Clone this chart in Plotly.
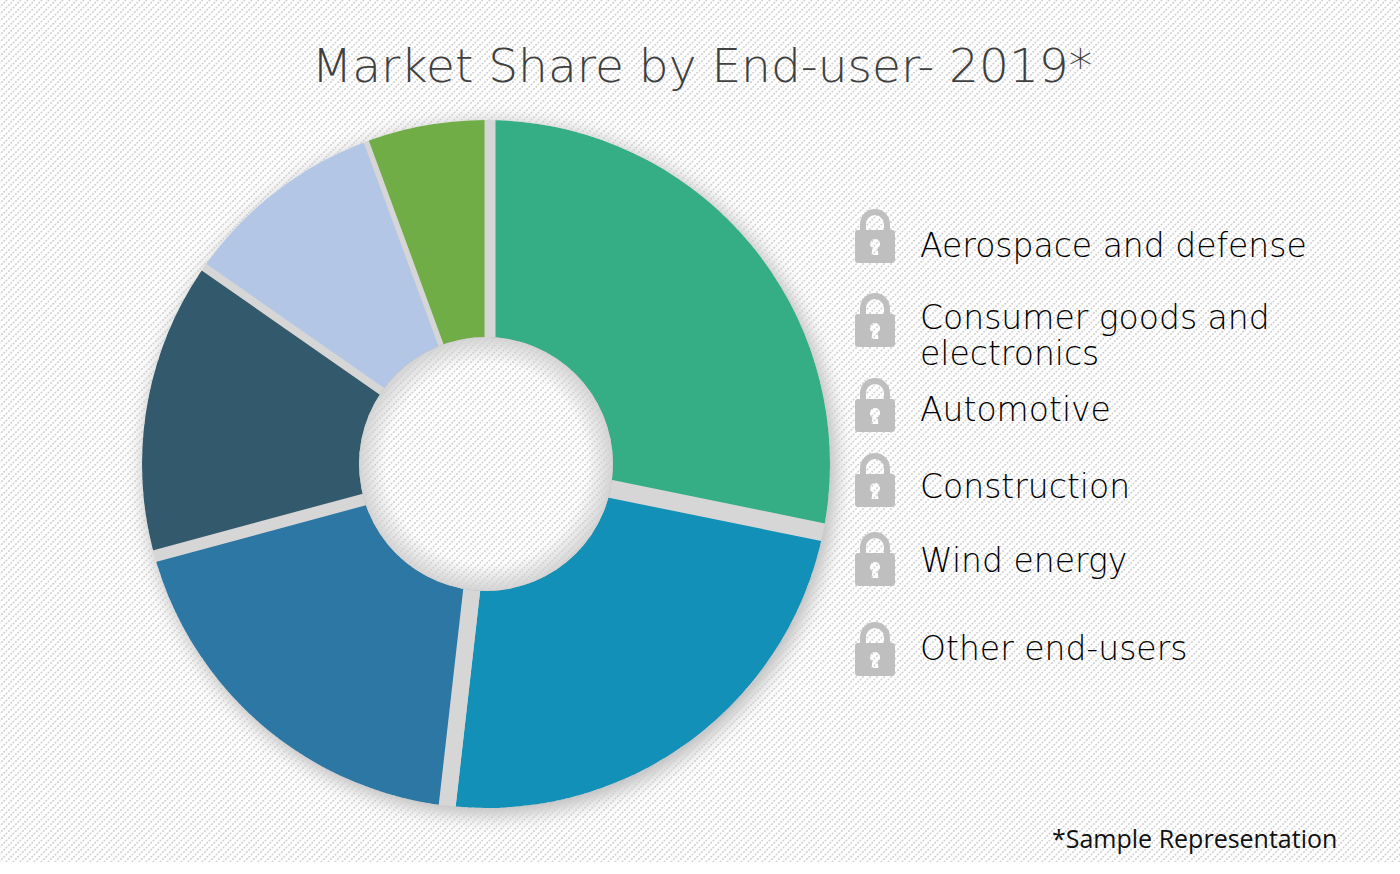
import base64
import plotly.graph_objects as go

categories = ["Aerospace and defense", "Consumer goods and<br>electronics", "Automotive",
              "Construction", "Wind energy", "Other end-users"]
shares = [28.2, 23.6, 19.0, 13.9, 9.7, 5.6]
colors = ["#35AE86", "#1390B7", "#2C77A4", "#335A6C", "#B3C6E5", "#70AD47"]
gap_widths = [19, 17, 17, 7, 8, 3]
label_y = [245, 317, 409, 486, 560, 648]
lock_y = [236, 320, 405, 480, 559, 649]

W, H = 1400, 874
CX, CY, RO, RI = 486, 464, 344, 127


def uri(svg):
    return "data:image/svg+xml;base64," + base64.b64encode(svg.encode()).decode()


def circle_path(r):
    return f"M{CX-r} {CY}a{r} {r} 0 1 0 {2*r} 0a{r} {r} 0 1 0 {-2*r} 0Z"


backdrop = f'''<svg xmlns="http://www.w3.org/2000/svg" width="{W}" height="{H}" viewBox="0 0 {W} {H}">
<defs>
<pattern id="p" width="7" height="7" patternUnits="userSpaceOnUse">
<path d="M-1 8L8 -1" stroke="#d0d0d0" stroke-width="1.7" stroke-dasharray="2 1.2" fill="none"/>
<path d="M-4.5 4.5L4.5 -4.5M2.5 11.5L11.5 2.5" stroke="#d0d0d0" stroke-width="1.7" stroke-dasharray="2 1.2" fill="none"/>
</pattern>
<filter id="b" x="-20%" y="-20%" width="140%" height="140%"><feGaussianBlur stdDeviation="11"/></filter>
<radialGradient id="g" gradientUnits="userSpaceOnUse" cx="{CX}" cy="{CY}" r="{RI}">
<stop offset="0.78" stop-color="#000" stop-opacity="0"/><stop offset="1" stop-color="#000" stop-opacity="0.17"/>
</radialGradient>
<clipPath id="c"><path clip-rule="evenodd" d="M0 0H{W}V{H}H0Z{circle_path(RO)}{circle_path(RI)}"/></clipPath>
</defs>
<g clip-path="url(#c)">
<rect width="{W}" height="{H}" fill="#fff"/>
<circle cx="{CX+4}" cy="{CY+5}" r="{RO}" fill="#000" fill-opacity="0.33" filter="url(#b)"/>
<circle cx="{CX}" cy="{CY}" r="{RI}" fill="#fff"/>
<circle cx="{CX}" cy="{CY}" r="{RI}" fill="url(#g)"/>
<rect width="{W}" height="862" fill="url(#p)"/>
</g></svg>'''

lock = '''<svg xmlns="http://www.w3.org/2000/svg" width="40" height="54" viewBox="0 0 40 54">
<path fill="#bfbfbf" fill-rule="evenodd" d="M3 21h2v-6a15 15 0 0 1 30 0v6h2a3 3 0 0 1 3 3v27a3 3 0 0 1-3 3H3a3 3 0 0 1-3-3V24a3 3 0 0 1 3-3Z
M11 21h18v-6a9 9 0 0 0-18 0Z
M20 30a5 5 0 0 0-2.600 9.300L16.500 46h7l-.9-6.700A5 5 0 0 0 20 30Z"/></svg>'''

images = [dict(source=uri(backdrop), xref="paper", yref="paper", x=0, y=1, sizex=1, sizey=1,
               xanchor="left", yanchor="top", sizing="stretch", layer="above")]
for y in lock_y:
    images.append(dict(source=uri(lock), xref="paper", yref="paper", x=875 / W, y=1 - y / H,
                       sizex=40 / W, sizey=54 / H, xanchor="center", yanchor="middle",
                       sizing="stretch", layer="above"))

R = RO + 10
r = RI - 10
fig = go.Figure(go.Pie(
    values=shares, labels=[c.replace("<br>", " ") for c in categories], sort=False,
    direction="clockwise", rotation=0, hole=r / R, textinfo="none", hoverinfo="label+percent",
    marker=dict(colors=colors, line=dict(color="#d6d6d6", width=gap_widths)),
    domain=dict(x=[(CX - R) / W, (CX + R) / W], y=[1 - (CY + R) / H, 1 - (CY - R) / H]),
    showlegend=False,
))

LEGEND_FONT = dict(family="DejaVu Sans", size=33, color="#000000", weight=200)
LINE_STEP = 36
annotations = []
for text, y in zip(categories, label_y):
    for i, part in enumerate(text.split("<br>")):
        annotations.append(dict(text=part, xref="paper", yref="paper", x=918 / W, y=1 - (y + i * LINE_STEP) / H,
                                xanchor="left", yanchor="middle", align="left", showarrow=False,
                                font=LEGEND_FONT))
annotations.append(dict(text="*Sample Representation", xref="paper", yref="paper", x=1339 / W, y=1 - 838 / H,
                        xanchor="right", yanchor="middle", showarrow=False,
                        font=dict(family="Open Sans", size=25, color="#111111")))

fig.update_layout(
    width=W, height=H, autosize=False, margin=dict(l=0, r=0, t=0, b=0), paper_bgcolor="#ffffff",
    title=dict(text="Market Share by End-user- 2019*", xref="paper", yref="paper", x=702 / W, y=1 - 66 / H,
               xanchor="center", yanchor="middle",
               font=dict(family="DejaVu Sans", size=47, color="#404040", weight=200)),
    images=images, annotations=annotations,
)
fig.write_html("out.html", config=dict(displayModeBar=False),
               post_script="document.body.style.margin='0';document.body.style.overflow='hidden';")
